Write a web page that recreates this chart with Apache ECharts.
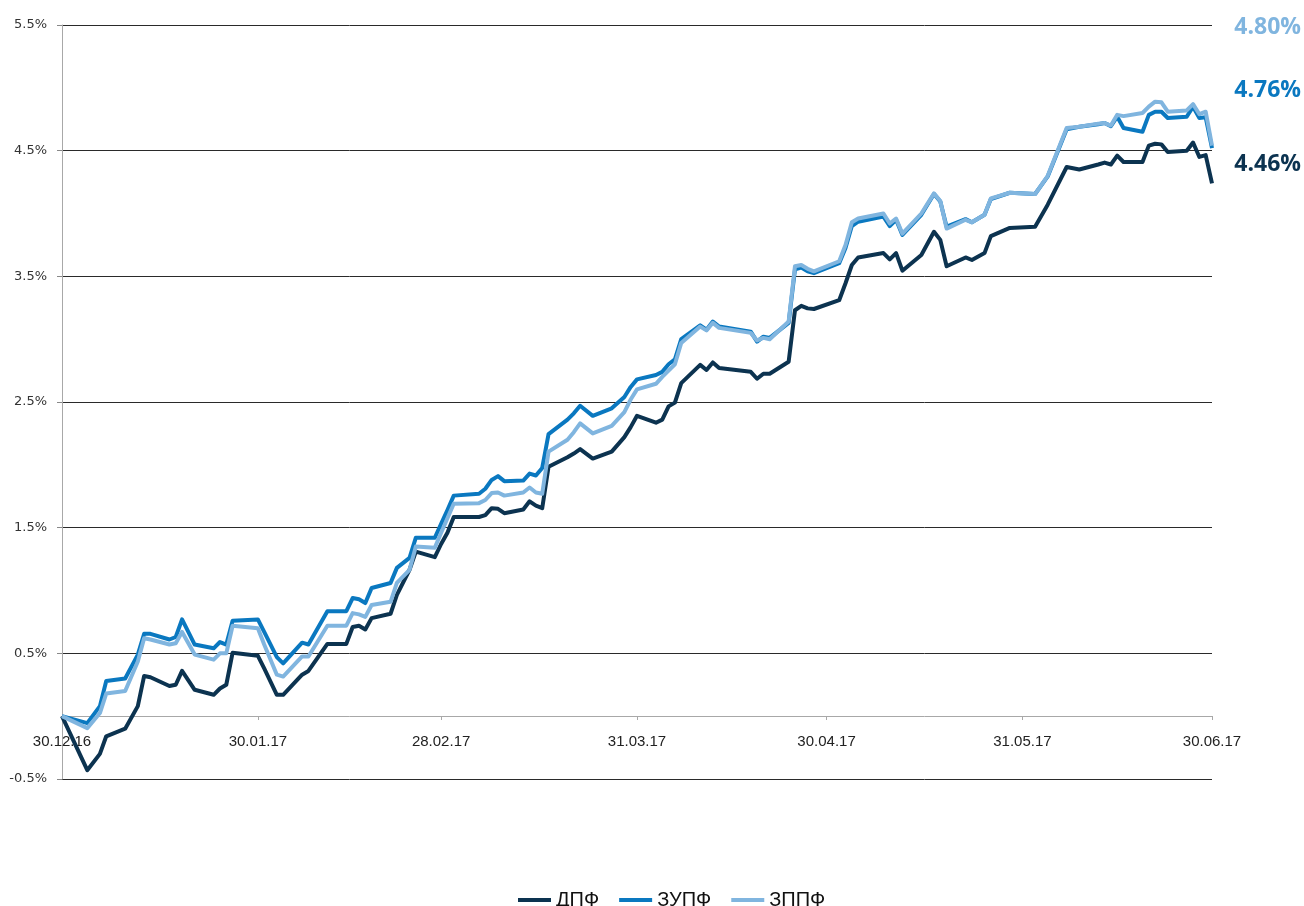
<!DOCTYPE html>
<html>
<head>
<meta charset="utf-8">
<script src="https://cdn.jsdelivr.net/npm/echarts@6/dist/echarts.min.js"></script>
<style>
html,body{margin:0;padding:0;background:#fff;}
#chart{width:1304px;height:906px;}
</style>
</head>
<body>
<div id="chart"></div>
<script>
// ---- data ----
const dates = [
 '2016-12-30','2017-01-03','2017-01-05','2017-01-06','2017-01-09','2017-01-11','2017-01-12','2017-01-13',
 '2017-01-16','2017-01-17','2017-01-18','2017-01-20','2017-01-23','2017-01-24','2017-01-25','2017-01-26',
 '2017-01-30','2017-01-31','2017-02-02','2017-02-03','2017-02-06','2017-02-07','2017-02-10','2017-02-13',
 '2017-02-14','2017-02-15','2017-02-16','2017-02-17','2017-02-20','2017-02-21','2017-02-23','2017-02-24',
 '2017-02-27','2017-02-28','2017-03-01','2017-03-02','2017-03-06','2017-03-07','2017-03-08','2017-03-09',
 '2017-03-10','2017-03-13','2017-03-14','2017-03-15','2017-03-16','2017-03-17','2017-03-20','2017-03-21',
 '2017-03-22','2017-03-24','2017-03-27','2017-03-29','2017-03-30','2017-03-31','2017-04-03','2017-04-04',
 '2017-04-05','2017-04-06','2017-04-07','2017-04-10','2017-04-11','2017-04-12','2017-04-13','2017-04-18',
 '2017-04-19','2017-04-20','2017-04-21','2017-04-24','2017-04-25','2017-04-26','2017-04-27','2017-04-28',
 '2017-05-02','2017-05-03','2017-05-04','2017-05-05','2017-05-09','2017-05-10','2017-05-11','2017-05-12',
 '2017-05-15','2017-05-17','2017-05-18','2017-05-19','2017-05-22','2017-05-23','2017-05-25','2017-05-26',
 '2017-05-29','2017-06-02','2017-06-04','2017-06-07','2017-06-09','2017-06-12','2017-06-13','2017-06-14',
 '2017-06-15','2017-06-16','2017-06-19','2017-06-20','2017-06-21','2017-06-22','2017-06-23','2017-06-26',
 '2017-06-27','2017-06-28','2017-06-29','2017-06-30'
];
const dpf = [
 0, -0.43, -0.30, -0.16, -0.10, 0.08, 0.32, 0.31,
 0.24, 0.25, 0.36, 0.21, 0.17, 0.22, 0.25, 0.505,
 0.48, 0.38, 0.17, 0.17, 0.33, 0.36, 0.575, 0.575,
 0.71, 0.72, 0.69, 0.78, 0.815, 0.965, 1.165, 1.31,
 1.265, 1.37, 1.46, 1.585, 1.585, 1.60, 1.655, 1.65,
 1.615, 1.645, 1.71, 1.675, 1.655, 1.985, 2.06, 2.09,
 2.125, 2.05, 2.105, 2.22, 2.30, 2.39, 2.335, 2.36,
 2.465, 2.495, 2.65, 2.795, 2.755, 2.815, 2.77, 2.74,
 2.685, 2.725, 2.725, 2.82, 3.23, 3.265, 3.245, 3.24,
 3.31, 3.445, 3.59, 3.65, 3.685, 3.635, 3.685, 3.545,
 3.67, 3.855, 3.79, 3.58, 3.65, 3.63, 3.685, 3.82,
 3.885, 3.895, 4.07, 4.37, 4.35, 4.39, 4.405, 4.39,
 4.46, 4.41, 4.41, 4.54, 4.555, 4.55, 4.49, 4.50,
 4.565, 4.45, 4.465, 4.24
];
const zupf = [
 0, -0.055, 0.08, 0.28, 0.30, 0.49, 0.655, 0.655,
 0.61, 0.63, 0.77, 0.57, 0.54, 0.59, 0.57, 0.76,
 0.77, 0.67, 0.47, 0.42, 0.585, 0.57, 0.835, 0.835,
 0.94, 0.93, 0.90, 1.02, 1.06, 1.18, 1.26, 1.42,
 1.42, 1.53, 1.64, 1.755, 1.77, 1.81, 1.88, 1.91,
 1.87, 1.875, 1.93, 1.915, 1.975, 2.245, 2.36, 2.41,
 2.47, 2.39, 2.45, 2.54, 2.62, 2.68, 2.715, 2.74,
 2.80, 2.84, 3.00, 3.11, 3.075, 3.14, 3.10, 3.06,
 2.98, 3.02, 3.01, 3.13, 3.555, 3.57, 3.54, 3.525,
 3.605, 3.725, 3.90, 3.935, 3.975, 3.90, 3.95, 3.83,
 3.99, 4.155, 4.095, 3.895, 3.955, 3.93, 3.99, 4.115,
 4.165, 4.155, 4.295, 4.67, 4.69, 4.71, 4.72, 4.695,
 4.77, 4.68, 4.65, 4.785, 4.81, 4.81, 4.76, 4.77,
 4.85, 4.76, 4.765, 4.52
];
const zppf = [
 0, -0.095, 0.025, 0.18, 0.20, 0.435, 0.62, 0.61,
 0.57, 0.58, 0.67, 0.49, 0.45, 0.50, 0.50, 0.72,
 0.70, 0.57, 0.33, 0.315, 0.475, 0.475, 0.72, 0.72,
 0.82, 0.81, 0.79, 0.885, 0.91, 1.06, 1.165, 1.35,
 1.34, 1.46, 1.575, 1.69, 1.695, 1.72, 1.775, 1.78,
 1.755, 1.78, 1.82, 1.78, 1.77, 2.105, 2.20, 2.26,
 2.33, 2.25, 2.31, 2.42, 2.52, 2.60, 2.645, 2.70,
 2.75, 2.80, 2.97, 3.10, 3.07, 3.13, 3.09, 3.05,
 2.99, 3.01, 3.00, 3.14, 3.58, 3.59, 3.56, 3.54,
 3.62, 3.75, 3.93, 3.96, 4.00, 3.92, 3.96, 3.84,
 4.00, 4.16, 4.10, 3.88, 3.95, 3.93, 3.99, 4.12,
 4.165, 4.155, 4.30, 4.68, 4.69, 4.715, 4.72, 4.70,
 4.785, 4.775, 4.80, 4.85, 4.89, 4.885, 4.81, 4.82,
 4.87, 4.79, 4.81, 4.54
];
const seriesNames = ['ДПФ', 'ЗУПФ', 'ЗППФ'];
const xTickDates = ['2016-12-30','2017-01-30','2017-02-28','2017-03-31','2017-04-30','2017-05-31','2017-06-30'];
const xTickLabels = ['30.12.16','30.01.17','28.02.17','31.03.17','30.04.17','31.05.17','30.06.17'];
const yTicks = [-0.5, 0.5, 1.5, 2.5, 3.5, 4.5, 5.5];
const endLabels = ['4.80%', '4.76%', '4.46%'];

// ---- styles ----
const colors = ['#0c3350', '#0a78c0', '#80b5df'];
const endLabelColors = ['#80b5df', '#0a78c0', '#0c3350'];
const endLabelY = [27, 90, 164];
const gridTop = 25, gridBottom = 127, plotH = 906 - gridTop - gridBottom;

// dates -> day offsets from first tick date (x axis is a value axis of days)
const toTs = s => { const p = s.split('-').map(Number); return Date.UTC(p[0], p[1]-1, p[2]); };
const t0 = toTs(xTickDates[0]);
const toDay = s => Math.round((toTs(s) - t0) / 86400000);
const xTickDays = xTickDates.map(toDay);
const mk = vals => dates.map((d, i) => [toDay(d), vals[i]]);

// x axis drawn at the 0% level: shift up from the grid bottom
const yMin = yTicks[0], yMax = yTicks[yTicks.length - 1];
const zeroOffset = -Math.round((0 - yMin) / (yMax - yMin) * plotH);

const chart = echarts.init(document.getElementById('chart'), null, {renderer: 'canvas'});
chart.setOption({
  animation: false,
  grid: {left: 62, right: 92, top: gridTop, bottom: gridBottom, containLabel: false},
  legend: {
    data: seriesNames,
    left: 513, top: 885,
    icon: 'rect', itemWidth: 33, itemHeight: 4, itemGap: 20,
    textStyle: {fontFamily: 'Liberation Sans', fontSize: 20, color: '#111'}
  },
  xAxis: {
    type: 'value',
    min: xTickDays[0], max: xTickDays[xTickDays.length - 1],
    offset: zeroOffset,
    axisLine: {onZero: false, lineStyle: {color: '#a8a8a8', width: 1}},
    axisTick: {show: true, customValues: xTickDays, length: 4, lineStyle: {color: '#a8a8a8'}},
    axisLabel: {
      customValues: xTickDays,
      margin: 18,
      fontFamily: 'Liberation Sans', fontSize: 15, color: '#222',
      formatter: v => { const i = xTickDays.indexOf(v); return i >= 0 ? xTickLabels[i] : ''; }
    },
    splitLine: {show: false}
  },
  yAxis: {
    type: 'value',
    min: yMin, max: yMax,
    axisLine: {show: true, lineStyle: {color: '#a8a8a8', width: 1}},
    axisTick: {show: true, customValues: yTicks, length: 5, lineStyle: {color: '#888'}},
    axisLabel: {
      customValues: yTicks,
      margin: 15,
      fontFamily: 'DejaVu Sans', fontSize: 13, color: '#333',
      formatter: v => v.toFixed(1) + '%'
    },
    splitLine: {show: true, showMinLine: true, showMaxLine: true, lineStyle: {color: '#2a2a2a', width: 1}}
  },
  series: seriesNames.map((n, k) => ({
    name: n, type: 'line', symbol: 'none',
    data: mk([dpf, zupf, zppf][k]),
    lineStyle: {width: 4, color: colors[k], join: 'round'},
    itemStyle: {color: colors[k]},
    z: 2 + k
  })),
  graphic: endLabels.map((t, k) => ({
    type: 'text', x: 1301, y: endLabelY[k],
    style: {text: t, align: 'right', verticalAlign: 'middle',
      fontFamily: 'Open Sans', fontWeight: 'bold', fontSize: 23, fill: endLabelColors[k]}
  }))
});
</script>
</body>
</html>
